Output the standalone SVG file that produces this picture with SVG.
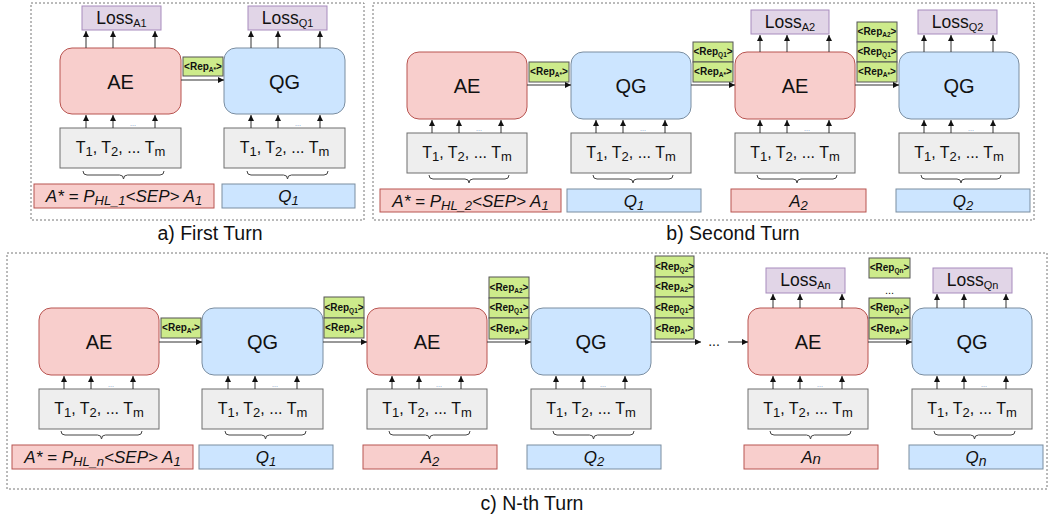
<svg xmlns="http://www.w3.org/2000/svg" width="1050" height="528" viewBox="0 0 1050 528">
<style>
text{font-family:"Liberation Sans",Arial,sans-serif;fill:#111}
.ae{fill:#f8cecc;stroke:#b85450;stroke-width:1}
.qg{fill:#cce5ff;stroke:#7a8da0;stroke-width:1}
.tok{fill:#eeeeee;stroke:#6e6e6e;stroke-width:1}
.loss{fill:#e1d5e7;stroke:#a78bbd;stroke-width:1}
.tag{fill:#cdeb8b;stroke:#555;stroke-width:1}
.panel{fill:none;stroke:#777;stroke-width:1;stroke-dasharray:2,2}
.big{font-size:20px}
.tt{font-size:16px}
.ls{font-size:17.5px}
.lab{font-size:17px;font-style:italic}
.tg{font-size:10px;font-weight:bold}
.ti{font-size:19.5px}
.dots{font-size:7px;fill:#6c8ebf}
.c line{stroke:#333;stroke-width:1}
.c path{fill:none;stroke:#444;stroke-width:1}
</style>
<defs>
<marker id="ar" markerWidth="6" markerHeight="6" refX="6" refY="3" orient="auto" markerUnits="userSpaceOnUse">
<path d="M0,0 L6,3 L0,6 z" fill="#111"/>
</marker>
</defs>

<!-- panels -->
<rect class="panel" x="31" y="3" width="333" height="217"/>
<rect class="panel" x="373" y="3" width="661" height="217"/>
<rect class="panel" x="7" y="253" width="1040" height="236"/>
<text class="ti" x="210" y="240" text-anchor="middle">a) First Turn</text>
<text class="ti" x="733" y="240" text-anchor="middle">b) Second Turn</text>
<text class="ti" x="532" y="510" text-anchor="middle">c) N-th Turn</text>

<!-- ===== Panel a ===== -->
<g id="a-lossA1"><rect class="loss" x="82" y="6" width="79" height="24"/><text class="ls" x="121.5" y="24" text-anchor="middle">Loss<tspan font-size="11" dy="3">A1</tspan></text></g>
<g id="a-lossQ1"><rect class="loss" x="248" y="6" width="79" height="24"/><text class="ls" x="287.5" y="24" text-anchor="middle">Loss<tspan font-size="11" dy="3">Q1</tspan></text></g>
<g id="a-AE"><rect class="ae" x="60" y="48" width="121" height="66" rx="12"/><text class="big" x="120.5" y="88.5" text-anchor="middle">AE</text></g>
<g id="a-QG"><rect class="qg" x="224" y="48" width="121" height="66" rx="12"/><text class="big" x="284.5" y="88.5" text-anchor="middle">QG</text></g>
<g id="a-tokAE"><rect class="tok" x="60" y="128" width="121" height="40"/><text class="tt" x="120.5" y="153" text-anchor="middle">T<tspan font-size="13" dy="3">1</tspan><tspan dy="-3">, T</tspan><tspan font-size="13" dy="3">2</tspan><tspan dy="-3">, ... T</tspan><tspan font-size="13" dy="3">m</tspan></text></g>
<g id="a-tokQG"><rect class="tok" x="224" y="128" width="121" height="40"/><text class="tt" x="284.5" y="153" text-anchor="middle">T<tspan font-size="13" dy="3">1</tspan><tspan dy="-3">, T</tspan><tspan font-size="13" dy="3">2</tspan><tspan dy="-3">, ... T</tspan><tspan font-size="13" dy="3">m</tspan></text></g>
<g id="a-inA"><rect class="ae" x="34" y="184" width="180" height="24"/><text class="lab" x="124" y="202" text-anchor="middle">A* = P<tspan font-size="13" dy="3">HL_1</tspan><tspan dy="-3">&lt;SEP&gt; A</tspan><tspan font-size="13" dy="3">1</tspan></text></g>
<g id="a-inQ"><rect class="qg" x="222" y="184" width="133" height="24"/><text class="lab" x="288.5" y="202" text-anchor="middle">Q<tspan font-size="13" dy="3">1</tspan></text></g>
<g id="a-tag1"><rect class="tag" x="183" y="57" width="40" height="19"/><text class="tg" x="203" y="70" text-anchor="middle">&lt;Rep<tspan font-size="6.5" dy="2">A*</tspan><tspan dy="-2">&gt;</tspan></text></g>

<!-- ===== Panel b ===== -->
<g id="b-lossA2"><rect class="loss" x="751" y="10" width="78" height="24"/><text class="ls" x="790" y="28" text-anchor="middle">Loss<tspan font-size="11" dy="3">A2</tspan></text></g>
<g id="b-lossQ2"><rect class="loss" x="918" y="10" width="79" height="24"/><text class="ls" x="957.5" y="28" text-anchor="middle">Loss<tspan font-size="11" dy="3">Q2</tspan></text></g>
<g id="b-AE1"><rect class="ae" x="407" y="52" width="120" height="67" rx="12"/><text class="big" x="467" y="93" text-anchor="middle">AE</text></g>
<g id="b-QG1"><rect class="qg" x="571" y="52" width="120" height="67" rx="12"/><text class="big" x="631" y="93" text-anchor="middle">QG</text></g>
<g id="b-AE2"><rect class="ae" x="735" y="52" width="120" height="67" rx="12"/><text class="big" x="795" y="93" text-anchor="middle">AE</text></g>
<g id="b-QG2"><rect class="qg" x="899" y="52" width="120" height="67" rx="12"/><text class="big" x="959" y="93" text-anchor="middle">QG</text></g>
<g id="b-tok1"><rect class="tok" x="407" y="133" width="120" height="40"/><text class="tt" x="467" y="158" text-anchor="middle">T<tspan font-size="13" dy="3">1</tspan><tspan dy="-3">, T</tspan><tspan font-size="13" dy="3">2</tspan><tspan dy="-3">, ... T</tspan><tspan font-size="13" dy="3">m</tspan></text></g>
<g id="b-tok2"><rect class="tok" x="571" y="133" width="120" height="40"/><text class="tt" x="631" y="158" text-anchor="middle">T<tspan font-size="13" dy="3">1</tspan><tspan dy="-3">, T</tspan><tspan font-size="13" dy="3">2</tspan><tspan dy="-3">, ... T</tspan><tspan font-size="13" dy="3">m</tspan></text></g>
<g id="b-tok3"><rect class="tok" x="735" y="133" width="120" height="40"/><text class="tt" x="795" y="158" text-anchor="middle">T<tspan font-size="13" dy="3">1</tspan><tspan dy="-3">, T</tspan><tspan font-size="13" dy="3">2</tspan><tspan dy="-3">, ... T</tspan><tspan font-size="13" dy="3">m</tspan></text></g>
<g id="b-tok4"><rect class="tok" x="899" y="133" width="120" height="40"/><text class="tt" x="959" y="158" text-anchor="middle">T<tspan font-size="13" dy="3">1</tspan><tspan dy="-3">, T</tspan><tspan font-size="13" dy="3">2</tspan><tspan dy="-3">, ... T</tspan><tspan font-size="13" dy="3">m</tspan></text></g>
<g id="b-inA"><rect class="ae" x="380" y="189" width="181" height="23"/><text class="lab" x="470.5" y="207" text-anchor="middle">A* = P<tspan font-size="13" dy="3">HL_2</tspan><tspan dy="-3">&lt;SEP&gt; A</tspan><tspan font-size="13" dy="3">1</tspan></text></g>
<g id="b-inQ1"><rect class="qg" x="567" y="189" width="134" height="23"/><text class="lab" x="634" y="207" text-anchor="middle">Q<tspan font-size="13" dy="3">1</tspan></text></g>
<g id="b-inA2"><rect class="ae" x="731" y="189" width="135" height="23"/><text class="lab" x="798.5" y="207" text-anchor="middle">A<tspan font-size="13" dy="3">2</tspan></text></g>
<g id="b-inQ2"><rect class="qg" x="896" y="189" width="134" height="23"/><text class="lab" x="963" y="207" text-anchor="middle">Q<tspan font-size="13" dy="3">2</tspan></text></g>
<g id="b-tags1"><rect class="tag" x="529" y="62" width="40" height="20"/><text class="tg" x="549" y="75" text-anchor="middle">&lt;Rep<tspan font-size="6.5" dy="2">A*</tspan><tspan dy="-2">&gt;</tspan></text></g>
<g id="b-tags2">
<rect class="tag" x="693" y="42" width="40" height="20"/><text class="tg" x="713" y="55" text-anchor="middle">&lt;Rep<tspan font-size="6.5" dy="2">Q1</tspan><tspan dy="-2">&gt;</tspan></text>
<rect class="tag" x="693" y="62" width="40" height="20"/><text class="tg" x="713" y="75" text-anchor="middle">&lt;Rep<tspan font-size="6.5" dy="2">A*</tspan><tspan dy="-2">&gt;</tspan></text>
</g>
<g id="b-tags3">
<rect class="tag" x="857" y="22" width="40" height="20"/><text class="tg" x="877" y="35" text-anchor="middle">&lt;Rep<tspan font-size="6.5" dy="2">A2</tspan><tspan dy="-2">&gt;</tspan></text>
<rect class="tag" x="857" y="42" width="40" height="20"/><text class="tg" x="877" y="55" text-anchor="middle">&lt;Rep<tspan font-size="6.5" dy="2">Q1</tspan><tspan dy="-2">&gt;</tspan></text>
<rect class="tag" x="857" y="62" width="40" height="20"/><text class="tg" x="877" y="75" text-anchor="middle">&lt;Rep<tspan font-size="6.5" dy="2">A*</tspan><tspan dy="-2">&gt;</tspan></text>
</g>

<!-- ===== Panel c ===== -->
<g id="c-lossAn"><rect class="loss" x="766" y="268" width="79" height="25"/><text class="ls" x="805.5" y="286" text-anchor="middle">Loss<tspan font-size="11" dy="3">An</tspan></text></g>
<g id="c-lossQn"><rect class="loss" x="933" y="268" width="79" height="25"/><text class="ls" x="972.5" y="286" text-anchor="middle">Loss<tspan font-size="11" dy="3">Qn</tspan></text></g>
<g id="c-AE1"><rect class="ae" x="39" y="308" width="120" height="67" rx="12"/><text class="big" x="99" y="349" text-anchor="middle">AE</text></g>
<g id="c-QG1"><rect class="qg" x="202" y="308" width="121" height="67" rx="12"/><text class="big" x="262.5" y="349" text-anchor="middle">QG</text></g>
<g id="c-AE2"><rect class="ae" x="367" y="308" width="120" height="67" rx="12"/><text class="big" x="427" y="349" text-anchor="middle">AE</text></g>
<g id="c-QG2"><rect class="qg" x="531" y="308" width="120" height="67" rx="12"/><text class="big" x="591" y="349" text-anchor="middle">QG</text></g>
<g id="c-AEn"><rect class="ae" x="748" y="308" width="120" height="67" rx="12"/><text class="big" x="808" y="349" text-anchor="middle">AE</text></g>
<g id="c-QGn"><rect class="qg" x="912" y="308" width="120" height="67" rx="12"/><text class="big" x="972" y="349" text-anchor="middle">QG</text></g>
<g id="c-tok1"><rect class="tok" x="39" y="389" width="120" height="40"/><text class="tt" x="99" y="414" text-anchor="middle">T<tspan font-size="13" dy="3">1</tspan><tspan dy="-3">, T</tspan><tspan font-size="13" dy="3">2</tspan><tspan dy="-3">, ... T</tspan><tspan font-size="13" dy="3">m</tspan></text></g>
<g id="c-tok2"><rect class="tok" x="202" y="389" width="121" height="40"/><text class="tt" x="262.5" y="414" text-anchor="middle">T<tspan font-size="13" dy="3">1</tspan><tspan dy="-3">, T</tspan><tspan font-size="13" dy="3">2</tspan><tspan dy="-3">, ... T</tspan><tspan font-size="13" dy="3">m</tspan></text></g>
<g id="c-tok3"><rect class="tok" x="367" y="389" width="120" height="40"/><text class="tt" x="427" y="414" text-anchor="middle">T<tspan font-size="13" dy="3">1</tspan><tspan dy="-3">, T</tspan><tspan font-size="13" dy="3">2</tspan><tspan dy="-3">, ... T</tspan><tspan font-size="13" dy="3">m</tspan></text></g>
<g id="c-tok4"><rect class="tok" x="531" y="389" width="120" height="40"/><text class="tt" x="591" y="414" text-anchor="middle">T<tspan font-size="13" dy="3">1</tspan><tspan dy="-3">, T</tspan><tspan font-size="13" dy="3">2</tspan><tspan dy="-3">, ... T</tspan><tspan font-size="13" dy="3">m</tspan></text></g>
<g id="c-tok5"><rect class="tok" x="748" y="389" width="120" height="40"/><text class="tt" x="808" y="414" text-anchor="middle">T<tspan font-size="13" dy="3">1</tspan><tspan dy="-3">, T</tspan><tspan font-size="13" dy="3">2</tspan><tspan dy="-3">, ... T</tspan><tspan font-size="13" dy="3">m</tspan></text></g>
<g id="c-tok6"><rect class="tok" x="912" y="389" width="120" height="40"/><text class="tt" x="972" y="414" text-anchor="middle">T<tspan font-size="13" dy="3">1</tspan><tspan dy="-3">, T</tspan><tspan font-size="13" dy="3">2</tspan><tspan dy="-3">, ... T</tspan><tspan font-size="13" dy="3">m</tspan></text></g>
<g id="c-inA"><rect class="ae" x="12" y="445" width="181" height="24"/><text class="lab" x="102.5" y="463" text-anchor="middle">A* = P<tspan font-size="13" dy="3">HL_n</tspan><tspan dy="-3">&lt;SEP&gt; A</tspan><tspan font-size="13" dy="3">1</tspan></text></g>
<g id="c-inQ1"><rect class="qg" x="199" y="445" width="134" height="24"/><text class="lab" x="266" y="463" text-anchor="middle">Q<tspan font-size="13" dy="3">1</tspan></text></g>
<g id="c-inA2"><rect class="ae" x="363" y="445" width="134" height="24"/><text class="lab" x="430" y="463" text-anchor="middle">A<tspan font-size="13" dy="3">2</tspan></text></g>
<g id="c-inQ2"><rect class="qg" x="527" y="445" width="134" height="24"/><text class="lab" x="594" y="463" text-anchor="middle">Q<tspan font-size="13" dy="3">2</tspan></text></g>
<g id="c-inAn"><rect class="ae" x="744" y="445" width="134" height="24"/><text class="lab" x="811" y="463" text-anchor="middle">A<tspan font-size="15" dy="1">n</tspan></text></g>
<g id="c-inQn"><rect class="qg" x="909" y="445" width="134" height="24"/><text class="lab" x="976" y="463" text-anchor="middle">Q<tspan font-size="14" dy="3">n</tspan></text></g>
<g id="c-tags1"><rect class="tag" x="161" y="318" width="40" height="20"/><text class="tg" x="181" y="331" text-anchor="middle">&lt;Rep<tspan font-size="6.5" dy="2">A*</tspan><tspan dy="-2">&gt;</tspan></text></g>
<g id="c-tags2">
<rect class="tag" x="324" y="297" width="40" height="21"/><text class="tg" x="344" y="311" text-anchor="middle">&lt;Rep<tspan font-size="6.5" dy="2">Q1</tspan><tspan dy="-2">&gt;</tspan></text>
<rect class="tag" x="324" y="318" width="40" height="20"/><text class="tg" x="344" y="331" text-anchor="middle">&lt;Rep<tspan font-size="6.5" dy="2">A*</tspan><tspan dy="-2">&gt;</tspan></text>
</g>
<g id="c-tags3">
<rect class="tag" x="489" y="277" width="40" height="21"/><text class="tg" x="509" y="291" text-anchor="middle">&lt;Rep<tspan font-size="6.5" dy="2">A2</tspan><tspan dy="-2">&gt;</tspan></text>
<rect class="tag" x="489" y="298" width="40" height="20"/><text class="tg" x="509" y="311" text-anchor="middle">&lt;Rep<tspan font-size="6.5" dy="2">Q1</tspan><tspan dy="-2">&gt;</tspan></text>
<rect class="tag" x="489" y="318" width="40" height="21"/><text class="tg" x="509" y="332" text-anchor="middle">&lt;Rep<tspan font-size="6.5" dy="2">A*</tspan><tspan dy="-2">&gt;</tspan></text>
</g>
<g id="c-tags4">
<rect class="tag" x="655" y="256" width="39" height="21"/><text class="tg" x="674.5" y="270" text-anchor="middle">&lt;Rep<tspan font-size="6.5" dy="2">Q2</tspan><tspan dy="-2">&gt;</tspan></text>
<rect class="tag" x="655" y="277" width="39" height="20"/><text class="tg" x="674.5" y="290" text-anchor="middle">&lt;Rep<tspan font-size="6.5" dy="2">A2</tspan><tspan dy="-2">&gt;</tspan></text>
<rect class="tag" x="655" y="297" width="39" height="21"/><text class="tg" x="674.5" y="311" text-anchor="middle">&lt;Rep<tspan font-size="6.5" dy="2">Q1</tspan><tspan dy="-2">&gt;</tspan></text>
<rect class="tag" x="655" y="318" width="39" height="21"/><text class="tg" x="674.5" y="332" text-anchor="middle">&lt;Rep<tspan font-size="6.5" dy="2">A*</tspan><tspan dy="-2">&gt;</tspan></text>
</g>
<g id="c-tags5">
<rect class="tag" x="869" y="258" width="41" height="20"/><text class="tg" x="889.5" y="271" text-anchor="middle">&lt;Rep<tspan font-size="6.5" dy="2">Qn</tspan><tspan dy="-2">&gt;</tspan></text>
<text x="889.5" y="294" font-size="11" text-anchor="middle">...</text>
<rect class="tag" x="869" y="298" width="41" height="20"/><text class="tg" x="889.5" y="311" text-anchor="middle">&lt;Rep<tspan font-size="6.5" dy="2">Q1</tspan><tspan dy="-2">&gt;</tspan></text>
<rect class="tag" x="869" y="318" width="41" height="21"/><text class="tg" x="889.5" y="332" text-anchor="middle">&lt;Rep<tspan font-size="6.5" dy="2">A*</tspan><tspan dy="-2">&gt;</tspan></text>
</g>
<text x="714" y="346" font-size="14" text-anchor="middle">...</text>

<!-- ===== connectors ===== -->
<g id="connectors" class="c">
<!-- panel a -->
<line x1="181" y1="80" x2="224" y2="80" marker-end="url(#ar)"/>
<line x1="86" y1="48" x2="86" y2="31" marker-end="url(#ar)"/><line x1="113" y1="48" x2="113" y2="31" marker-end="url(#ar)"/><line x1="155" y1="48" x2="155" y2="31" marker-end="url(#ar)"/>
<line x1="251" y1="48" x2="251" y2="31" marker-end="url(#ar)"/><line x1="278" y1="48" x2="278" y2="31" marker-end="url(#ar)"/><line x1="320" y1="48" x2="320" y2="31" marker-end="url(#ar)"/>
<line x1="86" y1="128" x2="86" y2="115" marker-end="url(#ar)"/><line x1="113" y1="128" x2="113" y2="115" marker-end="url(#ar)"/><line x1="155" y1="128" x2="155" y2="115" marker-end="url(#ar)"/>
<line x1="251" y1="128" x2="251" y2="115" marker-end="url(#ar)"/><line x1="278" y1="128" x2="278" y2="115" marker-end="url(#ar)"/><line x1="320" y1="128" x2="320" y2="115" marker-end="url(#ar)"/>
<path d="M83,171 Q83,175 87,175 L119.5,175 Q123.5,175 123.5,179 Q123.5,175 127.5,175 L160,175 Q164,175 164,171"/>
<path d="M247,171 Q247,175 251,175 L283.5,175 Q287.5,175 287.5,179 Q287.5,175 291.5,175 L324,175 Q328,175 328,171"/>
<!-- panel b -->
<line x1="527" y1="85" x2="571" y2="85" marker-end="url(#ar)"/>
<line x1="691" y1="85" x2="735" y2="85" marker-end="url(#ar)"/>
<line x1="855" y1="85" x2="899" y2="85" marker-end="url(#ar)"/>
<line x1="760" y1="52" x2="760" y2="35" marker-end="url(#ar)"/><line x1="787" y1="52" x2="787" y2="35" marker-end="url(#ar)"/><line x1="829" y1="52" x2="829" y2="35" marker-end="url(#ar)"/>
<line x1="924" y1="52" x2="924" y2="35" marker-end="url(#ar)"/><line x1="951" y1="52" x2="951" y2="35" marker-end="url(#ar)"/><line x1="993" y1="52" x2="993" y2="35" marker-end="url(#ar)"/>
<line x1="432" y1="133" x2="432" y2="120" marker-end="url(#ar)"/><line x1="459" y1="133" x2="459" y2="120" marker-end="url(#ar)"/><line x1="501" y1="133" x2="501" y2="120" marker-end="url(#ar)"/>
<line x1="596" y1="133" x2="596" y2="120" marker-end="url(#ar)"/><line x1="623" y1="133" x2="623" y2="120" marker-end="url(#ar)"/><line x1="665" y1="133" x2="665" y2="120" marker-end="url(#ar)"/>
<line x1="760" y1="133" x2="760" y2="120" marker-end="url(#ar)"/><line x1="787" y1="133" x2="787" y2="120" marker-end="url(#ar)"/><line x1="829" y1="133" x2="829" y2="120" marker-end="url(#ar)"/>
<line x1="924" y1="133" x2="924" y2="120" marker-end="url(#ar)"/><line x1="951" y1="133" x2="951" y2="120" marker-end="url(#ar)"/><line x1="993" y1="133" x2="993" y2="120" marker-end="url(#ar)"/>
<path d="M429,175 Q429,179 433,179 L465,179 Q469,179 469,183 Q469,179 473,179 L505,179 Q509,179 509,175"/>
<path d="M593,175 Q593,179 597,179 L629,179 Q633,179 633,183 Q633,179 637,179 L669,179 Q673,179 673,175"/>
<path d="M757,175 Q757,179 761,179 L793,179 Q797,179 797,183 Q797,179 801,179 L833,179 Q837,179 837,175"/>
<path d="M921,175 Q921,179 925,179 L957,179 Q961,179 961,183 Q961,179 965,179 L997,179 Q1001,179 1001,175"/>
<!-- panel c -->
<line x1="159" y1="342" x2="202" y2="342" marker-end="url(#ar)"/>
<line x1="323" y1="342" x2="367" y2="342" marker-end="url(#ar)"/>
<line x1="487" y1="342" x2="531" y2="342" marker-end="url(#ar)"/>
<line x1="651" y1="342" x2="701" y2="342" marker-end="url(#ar)"/>
<line x1="728" y1="342" x2="748" y2="342" marker-end="url(#ar)"/>
<line x1="868" y1="342" x2="912" y2="342" marker-end="url(#ar)"/>
<line x1="773" y1="308" x2="773" y2="294" marker-end="url(#ar)"/><line x1="800" y1="308" x2="800" y2="294" marker-end="url(#ar)"/><line x1="842" y1="308" x2="842" y2="294" marker-end="url(#ar)"/>
<line x1="937" y1="308" x2="937" y2="294" marker-end="url(#ar)"/><line x1="964" y1="308" x2="964" y2="294" marker-end="url(#ar)"/><line x1="1006" y1="308" x2="1006" y2="294" marker-end="url(#ar)"/>
<line x1="64" y1="389" x2="64" y2="376" marker-end="url(#ar)"/><line x1="91" y1="389" x2="91" y2="376" marker-end="url(#ar)"/><line x1="133" y1="389" x2="133" y2="376" marker-end="url(#ar)"/>
<line x1="228" y1="389" x2="228" y2="376" marker-end="url(#ar)"/><line x1="255" y1="389" x2="255" y2="376" marker-end="url(#ar)"/><line x1="297" y1="389" x2="297" y2="376" marker-end="url(#ar)"/>
<line x1="392" y1="389" x2="392" y2="376" marker-end="url(#ar)"/><line x1="419" y1="389" x2="419" y2="376" marker-end="url(#ar)"/><line x1="461" y1="389" x2="461" y2="376" marker-end="url(#ar)"/>
<line x1="556" y1="389" x2="556" y2="376" marker-end="url(#ar)"/><line x1="583" y1="389" x2="583" y2="376" marker-end="url(#ar)"/><line x1="625" y1="389" x2="625" y2="376" marker-end="url(#ar)"/>
<line x1="773" y1="389" x2="773" y2="376" marker-end="url(#ar)"/><line x1="800" y1="389" x2="800" y2="376" marker-end="url(#ar)"/><line x1="842" y1="389" x2="842" y2="376" marker-end="url(#ar)"/>
<line x1="937" y1="389" x2="937" y2="376" marker-end="url(#ar)"/><line x1="964" y1="389" x2="964" y2="376" marker-end="url(#ar)"/><line x1="1006" y1="389" x2="1006" y2="376" marker-end="url(#ar)"/>
<path d="M61,431 Q61,435 65,435 L97.5,435 Q101.5,435 101.5,439 Q101.5,435 105.5,435 L138,435 Q142,435 142,431"/>
<path d="M225,431 Q225,435 229,435 L261.5,435 Q265.5,435 265.5,439 Q265.5,435 269.5,435 L302,435 Q306,435 306,431"/>
<path d="M389,431 Q389,435 393,435 L425.5,435 Q429.5,435 429.5,439 Q429.5,435 433.5,435 L466,435 Q470,435 470,431"/>
<path d="M553,431 Q553,435 557,435 L589.5,435 Q593.5,435 593.5,439 Q593.5,435 597.5,435 L630,435 Q634,435 634,431"/>
<path d="M770,431 Q770,435 774,435 L806.5,435 Q810.5,435 810.5,439 Q810.5,435 814.5,435 L847,435 Q851,435 851,431"/>
<path d="M934,431 Q934,435 938,435 L970.5,435 Q974.5,435 974.5,439 Q974.5,435 978.5,435 L1011,435 Q1015,435 1015,431"/>
</g>

<!-- small dots between token arrows -->
<g id="dots">
<text class="dots" x="133" y="126" text-anchor="middle">...</text>
<text class="dots" x="298" y="126" text-anchor="middle">...</text>
<text class="dots" x="479" y="131" text-anchor="middle">...</text>
<text class="dots" x="643" y="131" text-anchor="middle">...</text>
<text class="dots" x="807" y="131" text-anchor="middle">...</text>
<text class="dots" x="971" y="131" text-anchor="middle">...</text>
<text class="dots" x="111" y="387" text-anchor="middle">...</text>
<text class="dots" x="275" y="387" text-anchor="middle">...</text>
<text class="dots" x="439" y="387" text-anchor="middle">...</text>
<text class="dots" x="603" y="387" text-anchor="middle">...</text>
<text class="dots" x="820" y="387" text-anchor="middle">...</text>
<text class="dots" x="984" y="387" text-anchor="middle">...</text>
</g>
</svg>
